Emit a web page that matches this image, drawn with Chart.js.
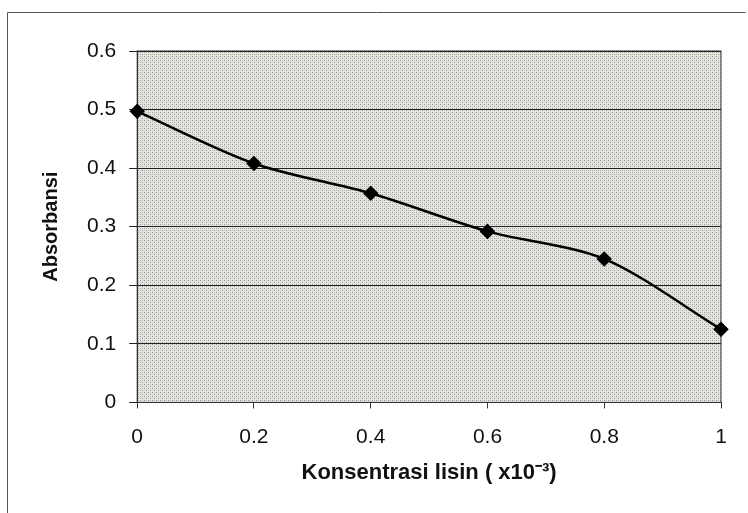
<!DOCTYPE html>
<html>
<head>
<meta charset="utf-8">
<script src="https://cdn.jsdelivr.net/npm/chart.js@4"></script>
<style>
  body { margin: 0; background: #fff; }
  #wrap { width: 748px; height: 513px; }
</style>
</head>
<body>
<div id="wrap"><canvas id="chart"></canvas></div>
<script>
const konsentrasi = [0, 0.2, 0.4, 0.6, 0.8, 1];
const absorbansi = [0.497, 0.408, 0.357, 0.292, 0.245, 0.125];
const yTicks = [0, 0.1, 0.2, 0.3, 0.4, 0.5, 0.6];
const xTicks = [0, 0.2, 0.4, 0.6, 0.8, 1];

// gray dotted fill like the old excel plot area
function dotPattern() {
    const c = document.createElement('canvas');
    c.width = 4; c.height = 4;
    const g = c.getContext('2d');
    g.fillStyle = '#e6e6e0';
    g.fillRect(0, 0, 4, 4);
    g.fillStyle = '#9a9a96';
    g.fillRect(0, 0, 1, 1);
    g.fillRect(2, 2, 1, 1);
    g.fillStyle = '#c2c2bd';
    g.fillRect(2, 0, 1, 1);
    g.fillRect(0, 2, 1, 1);
    return g.createPattern(c, 'repeat');
}

const plotBg = {
    id: 'plotBg',
    beforeDraw(chart) {
        const ctx = chart.ctx;
        const a = chart.chartArea;
        ctx.save();
        // outer frame
        ctx.strokeStyle = '#555';
        ctx.lineWidth = 1;
        ctx.beginPath();
        ctx.moveTo(7.5, 600);
        ctx.lineTo(7.5, 12.5);
        ctx.lineTo(745.5, 12.5);
        ctx.stroke();
        ctx.fillStyle = dotPattern();
        ctx.fillRect(a.left, a.top, a.right - a.left, a.bottom - a.top);
        ctx.strokeStyle = '#333';
        ctx.strokeRect(a.left, a.top, a.right - a.left, a.bottom - a.top);
        ctx.restore();
    }
};

const ctx = document.getElementById('chart').getContext('2d');
new Chart(ctx, {
    type: 'line',
    data: {
        datasets: [{
            data: konsentrasi.map((x, i) => ({ x: x, y: absorbansi[i] })),
            borderColor: '#000',
            backgroundColor: '#000',
            borderWidth: 2.5,
            tension: 0.3,
            pointStyle: 'rectRot',
            pointRadius: 6,
            pointHoverRadius: 6,
            clip: false
        }]
    },
    options: {
        responsive: true,
        maintainAspectRatio: false,
        animation: false,
        layout: { padding: { top: 51, right: 27, bottom: 27, left: 39 } },
        plugins: {
            legend: { display: false },
            tooltip: { enabled: false }
        },
        scales: {
            x: {
                type: 'linear',
                min: 0,
                max: 1,
                afterBuildTicks: axis => { axis.ticks = xTicks.map(v => ({ value: v })); },
                grid: { display: true, drawOnChartArea: false, drawTicks: true, tickLength: 6, color: '#333' },
                border: { color: '#333' },
                ticks: {
                    color: '#111',
                    padding: 16,
                    font: { family: 'Liberation Sans', size: 21 },
                    callback: v => String(v)
                },
                title: {
                    display: true,
                    text: 'Konsentrasi lisin ( x10⁻³)',
                    color: '#111',
                    padding: { top: -6, bottom: 0 },
                    font: { family: 'Liberation Sans', size: 22, weight: 'bold' }
                }
            },
            y: {
                min: 0,
                max: 0.6,
                afterBuildTicks: axis => { axis.ticks = yTicks.map(v => ({ value: v })); },
                grid: { color: '#222', lineWidth: 1, tickLength: 8 },
                border: { color: '#333' },
                ticks: {
                    color: '#111',
                    padding: 13,
                    font: { family: 'Liberation Sans', size: 21 },
                    callback: v => String(v)
                },
                title: {
                    display: true,
                    text: 'Absorbansi',
                    color: '#111',
                    padding: { top: 0, bottom: 11 },
                    font: { family: 'Liberation Sans', size: 20, weight: 'bold' }
                }
            }
        }
    },
    plugins: [plotBg]
});
</script>
</body>
</html>
